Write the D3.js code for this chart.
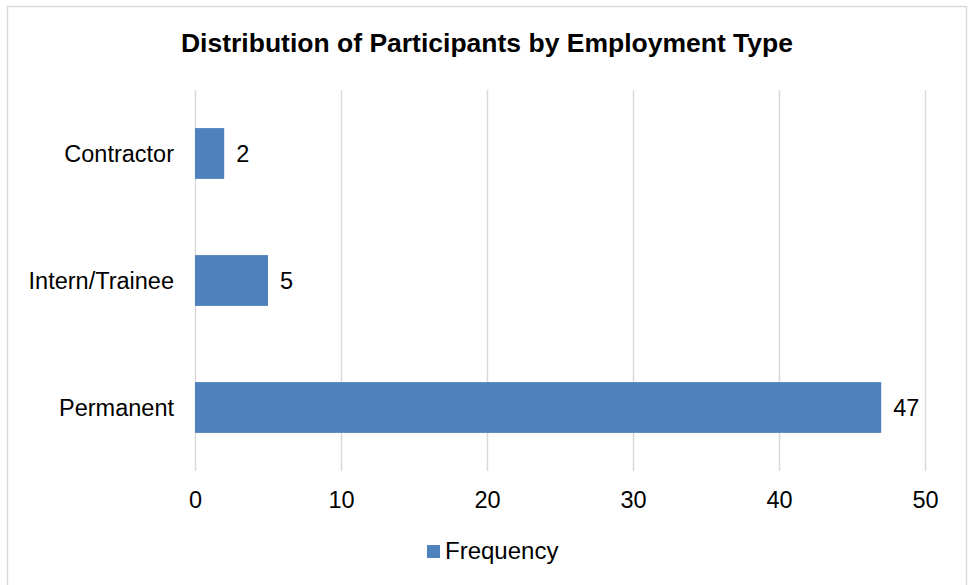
<!DOCTYPE html>
<html>
<head>
<meta charset="utf-8">
<script src="https://cdn.jsdelivr.net/npm/d3@7"></script>
<style>
  html, body { margin: 0; padding: 0; background: #fff; }
  svg { display: block; font-family: "Liberation Sans", Arial, sans-serif; }
</style>
</head>
<body>
<svg id="chart" width="969" height="585"></svg>
<script>
// Chart data
const categories = ["Contractor", "Intern/Trainee", "Permanent"];
const frequency = [2, 5, 47];
const xTicks = [0, 10, 20, 30, 40, 50];
const seriesName = "Frequency";
const title = "Distribution of Participants by Employment Type";

const svg = d3.select("#chart");
const plot = { left: 195, right: 925, top: 90, bottom: 471 };
const barColor = "#4F81BD";
const gridColor = "#d9d9d9";
const fs = 23.5;

// Outer chart frame
svg.append("rect")
  .attr("x", 7.5).attr("y", 6.5)
  .attr("width", 959).attr("height", 600)
  .attr("fill", "#fff")
  .attr("stroke", gridColor).attr("stroke-width", 1.5);

// Scales
const x = d3.scaleLinear().domain([0, 50]).range([plot.left, plot.right]);
const y = d3.scaleBand().domain(categories)
  .range([plot.top, plot.bottom])
  .paddingInner(0.6).paddingOuter(0.3);

// Title
svg.append("text")
  .attr("x", 487)
  .attr("y", 52)
  .attr("text-anchor", "middle")
  .attr("font-size", 26.5).attr("font-weight", "bold")
  .attr("fill", "#000")
  .text(title);

// Vertical gridlines with tick labels below
const xAxis = d3.axisBottom(x)
  .tickValues(xTicks)
  .tickSize(-(plot.bottom - plot.top))
  .tickPadding(0)
  .tickFormat(d3.format("d"));

const gx = svg.append("g")
  .attr("transform", `translate(0,${plot.bottom})`)
  .call(xAxis);
gx.select(".domain").remove();
gx.selectAll(".tick line")
  .attr("stroke", gridColor).attr("stroke-width", 1.5);
gx.selectAll(".tick text")
  .attr("y", 37).attr("dy", 0)
  .attr("font-size", fs).attr("fill", "#000")
  .attr("font-family", "Liberation Sans, Arial, sans-serif");

// Category labels
svg.append("g").selectAll("text")
  .data(categories)
  .join("text")
  .attr("x", 174)
  .attr("y", d => y(d) + y.bandwidth() / 2 + 8)
  .attr("text-anchor", "end")
  .attr("font-size", fs).attr("fill", "#000")
  .text(d => d);

// Bars
const rows = categories.map((c, i) => ({ cat: c, v: frequency[i] }));
svg.append("g").selectAll("rect")
  .data(rows)
  .join("rect")
  .attr("x", x(0))
  .attr("y", d => y(d.cat))
  .attr("width", d => x(d.v) - x(0))
  .attr("height", y.bandwidth())
  .attr("fill", barColor);

// Value labels
svg.append("g").selectAll("text")
  .data(rows)
  .join("text")
  .attr("x", d => x(d.v) + 12)
  .attr("y", d => y(d.cat) + y.bandwidth() / 2 + 8)
  .attr("font-size", fs).attr("fill", "#000")
  .text(d => d.v);

// Legend
const lg = svg.append("g").attr("transform", "translate(427,545)");
lg.append("rect").attr("width", 13).attr("height", 13).attr("fill", barColor);
lg.append("text").attr("x", 18).attr("y", 14)
  .attr("font-size", 24).attr("fill", "#000")
  .text(seriesName);
</script>
</body>
</html>
